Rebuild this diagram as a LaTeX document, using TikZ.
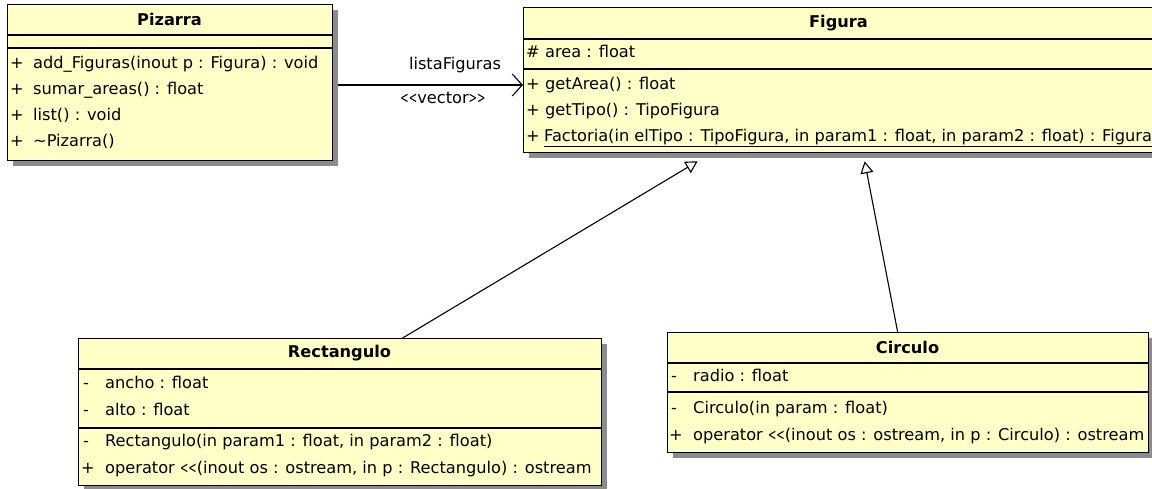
\documentclass[tikz,border=0pt]{standalone}
\usepackage{fontspec}
\usepackage{graphicx}
\setmainfont{DejaVu Sans}[Ligatures=TeXOff]
\usetikzlibrary{arrows.meta,shadows,calc,backgrounds}
\definecolor{classfill}{HTML}{FFFFC8}
\definecolor{shadowgray}{HTML}{8C8C8C}
\newcommand\umlfont{\fontsize{16.2}{19}\selectfont}
% narrow angle brackets for stereotypes and the stream operator
\newcommand\narrowlt{\scalebox{0.62}[1]{\textless}}
\newcommand\narrowgt{\scalebox{0.62}[1]{\textgreater}}
\newcommand\dblopen{\narrowlt\narrowlt}
\newcommand\dblclose{\narrowgt\narrowgt}

\begin{document}
\begin{tikzpicture}[x=1pt,y=-1pt,
  classbox/.style={draw=black, line width=1.3pt, fill=classfill, anchor=north west,
    inner sep=0pt, general shadow={fill=shadowgray, shadow xshift=5pt, shadow yshift=-5pt}},
  divider/.style={line width=1.1pt},
  title/.style={font=\umlfont\bfseries, inner sep=0pt},
  member/.style={font=\umlfont, anchor=west, inner sep=0pt, text height=11pt, text depth=4pt},
  assoc/.style={line width=1.1pt, -{Straight Barb[length=10pt,width=22pt,line width=1.1pt]}},
  gen/.style={line width=1.1pt, -{Triangle[open,length=12pt,width=13pt,fill=white]}},
  lbl/.style={font=\umlfont, inner sep=0pt, text height=11pt, text depth=4pt}]

\clip (0,0) rectangle (1152,488);

% ---------- Pizarra ----------
\node[classbox, minimum width=325pt, minimum height=156pt] (pizarra) at (7,4) {};
\node[title] (pizarra-t) at (169.5,19) {Pizarra};
\draw[divider] (7,35) -- (332,35);
\draw[divider] (7,48) -- (332,48);
\node[member] (pz-v1) at (10,65) {+};
\node[member] (pz-m1) at (33,65) {add\_Figuras(inout p : Figura) : void};
\node[member] (pz-v2) at (10,91) {+};
\node[member] (pz-m2) at (33,91) {sumar\_areas() : float};
\node[member] (pz-v3) at (10,117) {+};
\node[member] (pz-m3) at (33,117) {list() : void};
\node[member] (pz-v4) at (10,143) {+};
\node[member] (pz-m4) at (33,143) {\textasciitilde Pizarra()};

% ---------- Figura ----------
\node[classbox, minimum width=631pt, minimum height=145pt] (figura) at (523,7) {};
\node[title] (figura-t) at (838.5,23) {Figura};
\draw[divider] (523,39) -- (1154,39);
\draw[divider] (523,69) -- (1154,69);
\node[member] (fg-v0) at (526,54) {\#};
\node[member] (fg-a1) at (545,54) {area : float};
\node[member] (fg-v1) at (526,86) {+};
\node[member] (fg-m1) at (545,86) {getArea() : float};
\node[member] (fg-v2) at (526,112) {+};
\node[member] (fg-m2) at (545,112) {getTipo() : TipoFigura};
\node[member] (fg-v3) at (526,138) {+};
\node[member] (fg-m3) at (544,138) {\underline{Factoria(in elTipo : TipoFigura, in param1 : float, in param2 : float) : Figura}};

% ---------- Rectangulo ----------
\node[classbox, minimum width=523pt, minimum height=147pt] (rect) at (78,338) {};
\node[title] (rect-t) at (339.5,353) {Rectangulo};
\draw[divider] (78,369) -- (601,369);
\draw[divider] (78,428) -- (601,428);
\node[member] (rc-v1) at (83,385) {-};
\node[member] (rc-a1) at (105,385) {ancho : float};
\node[member] (rc-v2) at (83,412) {-};
\node[member] (rc-a2) at (105,412) {alto : float};
\node[member] (rc-v3) at (83,443) {-};
\node[member] (rc-m1) at (105,443) {Rectangulo(in param1 : float, in param2 : float)};
\node[member] (rc-v4) at (81,470) {+};
\node[member] (rc-m2) at (105,470) {operator \dblopen(inout os : ostream, in p : Rectangulo) : ostream};

% ---------- Circulo ----------
\node[classbox, minimum width=481pt, minimum height=120pt] (circulo) at (667,332) {};
\node[title] (circulo-t) at (907.5,347) {Circulo};
\draw[divider] (667,363) -- (1148,363);
\draw[divider] (667,392) -- (1148,392);
\node[member] (ci-v1) at (671,378) {-};
\node[member] (ci-a1) at (693,378) {radio : float};
\node[member] (ci-v2) at (671,410) {-};
\node[member] (ci-m1) at (693,410) {Circulo(in param : float)};
\node[member] (ci-v3) at (669,437) {+};
\node[member] (ci-m2) at (693,437) {operator \dblopen(inout os : ostream, in p : Circulo) : ostream};

% ---------- relations ----------
\coordinate (assoc-y) at (0,85);
\node[lbl] (assoc-name) at (455,66) {listaFiguras};
\node[lbl] (assoc-st) at (443,100) {\dblopen vector\dblclose};

\begin{pgfonlayer}{background}
  \draw[assoc] (pizarra.east |- assoc-y) -- (figura.west |- assoc-y);
  \draw[gen] ($(rect.north)+(62.5,0)$) -- ($(figura.south)+(-141.5,8)$);
  \draw[gen] ($(circulo.north)+(-10.5,0)$) -- ($(figura.south)+(25.5,8)$);
\end{pgfonlayer}
\end{tikzpicture}
\end{document}
